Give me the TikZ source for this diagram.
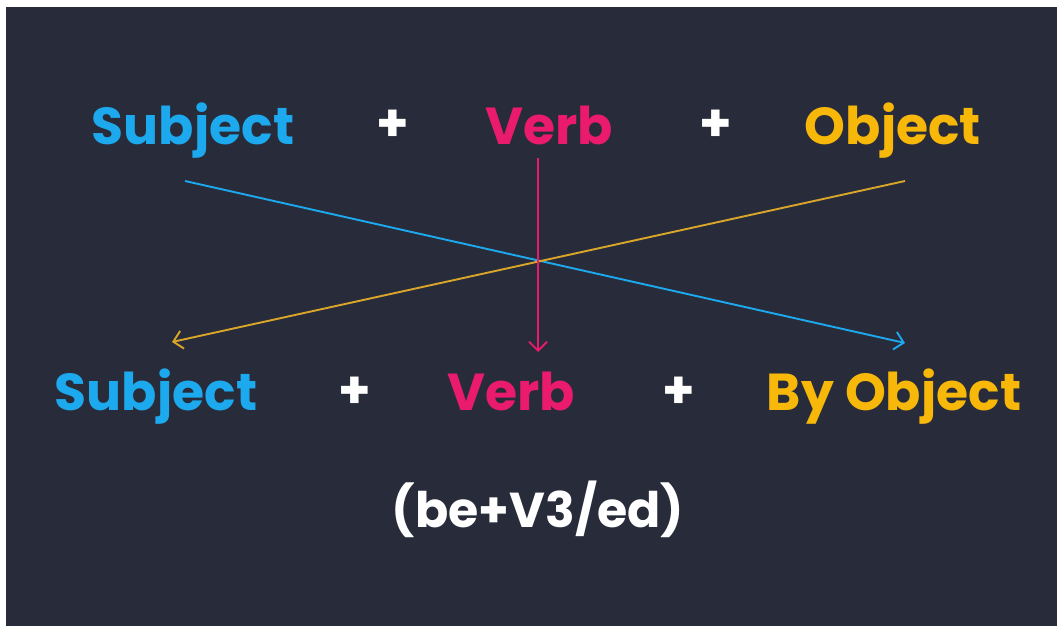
\documentclass[tikz,border=0pt]{standalone}
\usepackage{fontspec}
\setmainfont{Poppins}
\usetikzlibrary{arrows.meta}
\definecolor{bg}{HTML}{282C3A}
\definecolor{subj}{HTML}{1DA9EE}
\definecolor{verb}{HTML}{EA1A6C}
\definecolor{obj}{HTML}{F7B80A}
\definecolor{objline}{HTML}{D9A62A}
\tikzset{
  word/.style={font=\fontsize{52}{60}\selectfont\bfseries, inner sep=0pt, anchor=base},
  plus/.style={word, text=white},
  link/.style={line width=1.9pt, -{Straight Barb[length=9pt,width=18pt,line width=1.9pt]}},
}
\begin{document}
\begin{tikzpicture}[x=1pt,y=-1pt]
  % page and dark panel
  \useasboundingbox (0,0) rectangle (1057,626);
  \fill[white] (0,0) rectangle (1057,626);
  \fill[bg] (6,7) rectangle (1057,626);

  % active sentence
  \node[word, text=subj] (s1) at (193,144) {Subject};
  \node[plus] (p1) at (393,141) {+};
  \node[word, text=verb] (v1) at (549,144) {Verb};
  \node[plus] (p2) at (716,141) {+};
  \node[word, text=obj]  (o1) at (893,144) {Object};

  % passive sentence
  \node[word, text=subj] (s2) at (156,410) {Subject};
  \node[plus] (p3) at (355,408) {+};
  \node[word, text=verb] (v2) at (511,410) {Verb};
  \node[plus] (p4) at (679,408) {+};
  \node[word, text=obj]  (o2) at (894,410) {By Object};

  \node[word, text=white, font=\fontsize{49}{58}\selectfont\bfseries] (form) at (538,527) {(be+V3/ed)};

  % connector end points
  \coordinate (sa) at (185,181);
  \coordinate (sb) at (905,343);
  \coordinate (oa) at (905,181);
  \coordinate (ob) at (172,342);
  \coordinate (va) at (538,158);
  \coordinate (vb) at (538,352);

  \draw[link, subj] (sa) -- (sb);
  \draw[link, objline] (oa) -- (ob);
  \draw[link, verb] (va) -- (vb);
\end{tikzpicture}
\end{document}
